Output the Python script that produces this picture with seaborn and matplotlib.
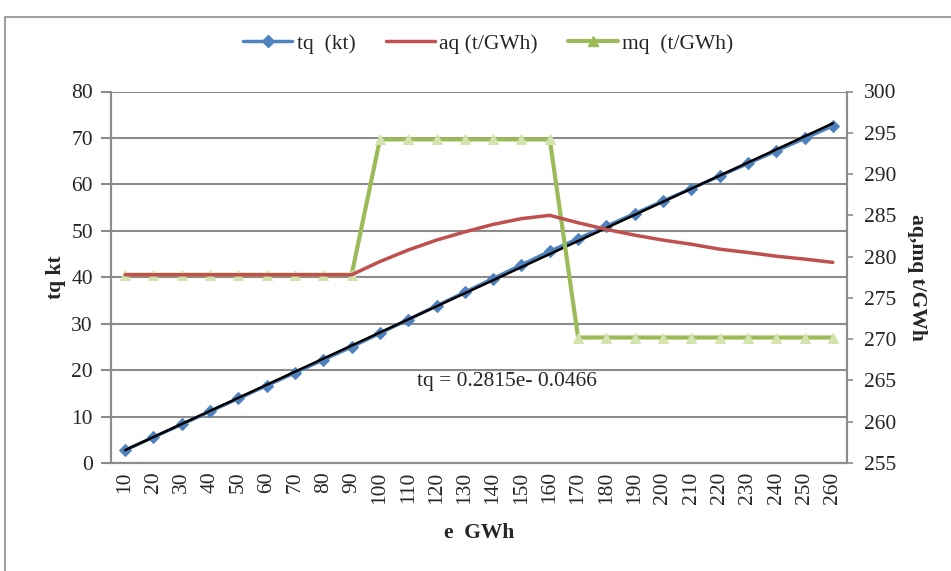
import numpy as np
import pandas as pd
import seaborn as sns
import matplotlib.pyplot as plt
from matplotlib.lines import Line2D

# data
e_gwh = [10, 20, 30, 40, 50, 60, 70, 80, 90, 100, 110, 120, 130,
         140, 150, 160, 170, 180, 190, 200, 210, 220, 230, 240, 250, 260]
tq_kt = [2.78, 5.56, 8.33, 11.11, 13.89, 16.67, 19.44, 22.22, 25.0, 27.94,
         30.89, 33.84, 36.78, 39.73, 42.67, 45.6, 48.3, 51.0, 53.7, 56.4,
         59.1, 61.8, 64.5, 67.2, 69.9, 72.6]
aq_t_gwh = [277.8, 277.8, 277.8, 277.8, 277.8, 277.8, 277.8, 277.8, 277.8,
            279.4, 280.8, 282.0, 283.0, 283.9, 284.6, 285.0, 284.1, 283.3,
            282.6, 282.0, 281.5, 280.9, 280.5, 280.05, 279.7, 279.3]
mq_t_gwh = [277.8, 277.8, 277.8, 277.8, 277.8, 277.8, 277.8, 277.8, 277.8,
            294.2, 294.2, 294.2, 294.2, 294.2, 294.2, 294.2, 270.2, 270.2,
            270.2, 270.2, 270.2, 270.2, 270.2, 270.2, 270.2, 270.2]
left_ticks = [0, 10, 20, 30, 40, 50, 60, 70, 80]
right_ticks = [255, 260, 265, 270, 275, 280, 285, 290, 295, 300]
trend_label = "tq = 0.2815e- 0.0466"

df = pd.DataFrame({"e": e_gwh, "tq": tq_kt, "aq": aq_t_gwh, "mq": mq_t_gwh})

sns.set_style("white")
plt.rcParams['font.family'] = ['Liberation Serif', 'DejaVu Serif']

BLUE = "#4F81BD"
RED = "#C0504D"
GREEN = "#9BBB59"
GRID = "#8C8C8C"
FS = 15.5

fig = plt.figure(figsize=(9.51, 5.71), dpi=100)
ax = fig.add_axes([111 / 951, 1 - 463 / 571, (847 - 111) / 951, (463 - 91.5) / 571])
ax2 = ax.twinx()

# primary axis: tq with linear trend
sns.lineplot(data=df, x="e", y="tq", ax=ax, color=BLUE, lw=2.5,
             marker="D", markersize=6, markeredgecolor=BLUE, zorder=3)
k, b = np.polyfit(df["e"], df["tq"], 1)
ax.plot([e_gwh[0], e_gwh[-1]], [k * e_gwh[0] + b, k * e_gwh[-1] + b],
        color="black", lw=1.8, zorder=4)

# secondary axis: aq and mq
sns.lineplot(data=df, x="e", y="mq", ax=ax2, color=GREEN, lw=3,
             marker="^", markersize=7, markerfacecolor="#D3E3AE",
             markeredgecolor="#D3E3AE", zorder=2)
sns.lineplot(data=df, x="e", y="aq", ax=ax2, color=RED, lw=2.5, zorder=3)

ax.set_xlim(5, 265)
ax.set_ylim(0, 80)
ax2.set_ylim(255, 300)

ax.set_xticks(e_gwh)
ax.set_xticklabels([str(v) for v in e_gwh], rotation=90, fontsize=FS)
ax.set_xticks([v + 5 for v in e_gwh[:-1]], minor=True)
ax.tick_params(axis="x", which="major", length=0, pad=6)
ax.tick_params(axis="x", which="minor", length=5, color=GRID, width=1.2)

ax.set_yticks(left_ticks)
ax.tick_params(axis="y", labelsize=FS, length=7, color=GRID, width=1.5, pad=6)
ax2.set_yticks(right_ticks)
ax2.tick_params(axis="y", labelsize=FS, length=4, color=GRID, width=1.2, pad=8)

for v in left_ticks:
    ax.axhline(v, color=GRID, lw=1.5, zorder=1)

for a in (ax, ax2):
    a.spines["top"].set_visible(False)
    for s in ("left", "right", "bottom"):
        a.spines[s].set_color(GRID)
        a.spines[s].set_linewidth(1.5)
    a.grid(False)

ax.set_xlabel("e  GWh", fontsize=FS, fontweight="bold", labelpad=14)
ax.set_ylabel("tq kt", fontsize=FS, fontweight="bold", labelpad=4)
ax2.set_ylabel("aq,mq t/GWh", fontsize=FS, fontweight="bold", rotation=270, labelpad=22)

ax.text(0.416, 0.22, trend_label, transform=ax.transAxes,
        fontsize=FS, ha="left", va="center")

handles = [
    Line2D([], [], color=BLUE, lw=2.5, marker="D", markersize=6),
    Line2D([], [], color=RED, lw=2.5),
    Line2D([], [], color=GREEN, lw=3, marker="^", markersize=7,
           markerfacecolor=GREEN),
]
fig.legend(handles, ["tq  (kt)", "aq (t/GWh)", "mq  (t/GWh)"],
           loc="center", bbox_to_anchor=(488 / 951, 1 - 44 / 571), ncol=3,
           frameon=False, fontsize=FS, handlelength=2.3, columnspacing=1.4,
           handletextpad=0.2)

# border of the figure box
fig.add_artist(Line2D([5 / 951, 5 / 951], [0, 1 - 17 / 571], color="#A0A0A0", lw=1.5))
fig.add_artist(Line2D([5 / 951, 1], [1 - 17 / 571, 1 - 17 / 571], color="#A0A0A0", lw=1.5))

fig.savefig("out.png", dpi=100)
